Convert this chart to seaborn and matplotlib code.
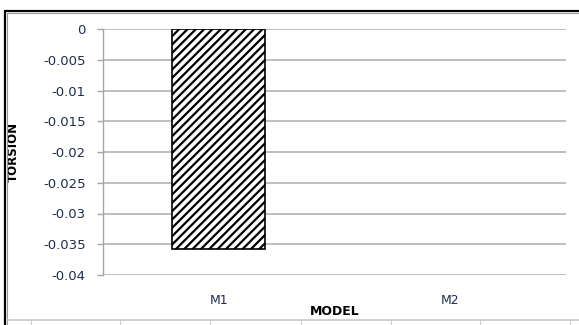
import matplotlib
matplotlib.use("Agg")
import matplotlib.pyplot as plt
from matplotlib.lines import Line2D
import seaborn as sns
import pandas as pd

# Torsion per model
models = ["M1", "M2"]
torsion = [-0.0358, 0.0]
y_ticks = [0, -0.005, -0.01, -0.015, -0.02, -0.025, -0.03, -0.035, -0.04]
y_tick_labels = ["0", "-0.005", "-0.01", "-0.015", "-0.02", "-0.025", "-0.03", "-0.035", "-0.04"]

sns.set_style("white")
plt.rcParams["font.family"] = ["DejaVu Sans"]
plt.rcParams["hatch.linewidth"] = 1.6
plt.rcParams["hatch.color"] = "black"

df = pd.DataFrame({"MODEL": models, "TORSION": torsion})

W, H = 579, 325
fig = plt.figure(figsize=(W / 100, H / 100), dpi=100)
ax = fig.add_axes([103 / W, 1 - 275 / H, (566 - 103) / W, (275 - 29) / H])

sns.barplot(data=df, x="MODEL", y="TORSION", ax=ax, width=0.4,
            color="white", edgecolor="black", linewidth=1.2, saturation=1)
for p in ax.patches:
    if p.get_height() == 0:
        p.set_linewidth(0)
    else:
        p.set_hatch("////")

ax.set_ylim(-0.04, 0)
ax.set_xlim(-0.5, 1.5)
ax.set_yticks(y_ticks)
ax.set_yticklabels(y_tick_labels)
ax.yaxis.grid(True, color="#b3b3b3", linewidth=1.2)
ax.set_axisbelow(True)

for s in ["top", "right", "bottom"]:
    ax.spines[s].set_visible(False)
ax.spines["left"].set_color("#a6a6a6")
ax.spines["left"].set_linewidth(1.0)

label_color = "#1f2d4d"
ax.tick_params(axis="y", which="major", direction="out", length=4.5, width=1.0,
               color="#a6a6a6", pad=8, labelsize=9.5, labelcolor=label_color, left=True)
ax.tick_params(axis="x", length=0, pad=14, labelsize=9, labelcolor=label_color)

ax.set_xlabel("MODEL", fontsize=9, fontweight="bold", color="black", labelpad=0)
ax.xaxis.set_label_coords(0.5, -0.123)
ax.set_ylabel("TORSION", fontsize=8.5, fontweight="bold", color="black")
ax.yaxis.set_label_coords(-(103 - 20) / (566 - 103), 0.5)

# Surrounding chart frame
def fline(xs, ys, **kw):
    fig.add_artist(Line2D([x / W for x in xs], [1 - y / H for y in ys],
                          transform=fig.transFigure, **kw))

fline([5, W], [11, 11], color="black", linewidth=1.6)
fline([7, W], [13, 13], color="#9a9a9a", linewidth=0.8)
fline([5, 5], [11, H], color="black", linewidth=1.6)
fline([7, 7], [13, H], color="#9a9a9a", linewidth=0.8)
fline([7, W], [320, 320], color="#c8c8c8", linewidth=1.2)
for gx in [31, 120, 210, 301, 391, 480, 570]:
    fline([gx, gx], [320, H], color="#d0d0d0", linewidth=0.8)

fig.savefig("out.png", dpi=100)
